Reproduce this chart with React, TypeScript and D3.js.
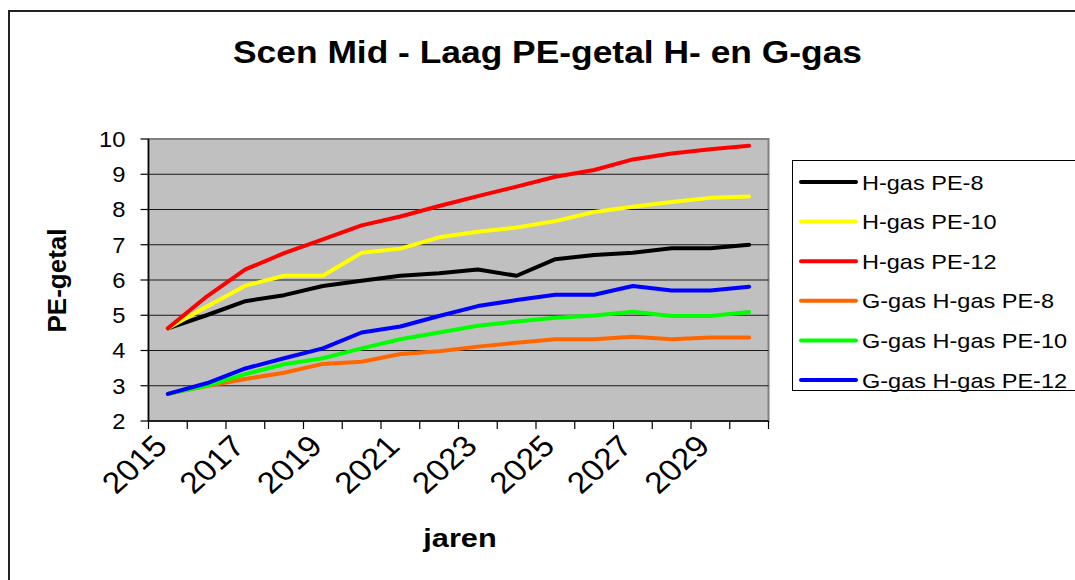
import { useEffect, useRef } from 'react';
import * as d3 from 'd3';

const years = [2015, 2016, 2017, 2018, 2019, 2020, 2021, 2022, 2023, 2024, 2025, 2026, 2027, 2028, 2029, 2030];
const yTicks = [2, 3, 4, 5, 6, 7, 8, 9, 10];

const hgasPE8 = [4.63, 5.0, 5.4, 5.57, 5.83, 5.98, 6.12, 6.19, 6.3, 6.12, 6.59, 6.71, 6.77, 6.9, 6.9, 7.0];
const hgasPE10 = [4.63, 5.24, 5.84, 6.12, 6.12, 6.77, 6.89, 7.21, 7.37, 7.49, 7.67, 7.93, 8.08, 8.21, 8.33, 8.37];
const hgasPE12 = [4.63, 5.53, 6.3, 6.76, 7.15, 7.55, 7.8, 8.1, 8.38, 8.65, 8.93, 9.12, 9.42, 9.59, 9.71, 9.81];
const ggasPE8 = [2.77, 2.99, 3.19, 3.37, 3.62, 3.68, 3.9, 3.98, 4.11, 4.22, 4.32, 4.32, 4.39, 4.32, 4.37, 4.37];
const ggasPE10 = [2.77, 3.0, 3.33, 3.61, 3.78, 4.06, 4.32, 4.51, 4.7, 4.82, 4.93, 4.99, 5.1, 4.98, 4.98, 5.09];
const ggasPE12 = [2.77, 3.07, 3.49, 3.78, 4.06, 4.51, 4.68, 4.98, 5.26, 5.43, 5.58, 5.58, 5.83, 5.7, 5.7, 5.81];

const seriesNames = ['H-gas PE-8', 'H-gas PE-10', 'H-gas PE-12', 'G-gas H-gas PE-8', 'G-gas H-gas PE-10', 'G-gas H-gas PE-12'];
const seriesColors = ['#000000', '#ffff00', '#ff0000', '#ff6600', '#00ff00', '#0000ff'];
const seriesValues = [hgasPE8, hgasPE10, hgasPE12, ggasPE8, ggasPE10, ggasPE12];

const W = 1075;
const H = 580;
const FONT = '"Liberation Sans", Arial, sans-serif';

export default function App() {
  const svgRef = useRef<SVGSVGElement>(null);

  useEffect(() => {
    if (!svgRef.current) return;
    const svg = d3.select(svgRef.current);
    svg.selectAll('*').remove();

    const plot = { left: 148.5, right: 768.5, top: 139, bottom: 421 };

    // outer chart frame (runs off the right/bottom edge)
    svg.append('rect')
      .attr('x', 9).attr('y', 11)
      .attr('width', W + 20).attr('height', H + 20)
      .attr('fill', '#fff')
      .attr('stroke', '#222')
      .attr('stroke-width', 2);

    const x = d3.scaleBand<number>().domain(years).range([plot.left, plot.right]).padding(0);
    const y = d3.scaleLinear().domain([2, 10]).range([plot.bottom, plot.top]);
    const cx = (yr: number) => (x(yr) as number) + x.bandwidth() / 2;

    // plot area
    svg.append('rect')
      .attr('x', plot.left).attr('y', plot.top)
      .attr('width', plot.right - plot.left).attr('height', plot.bottom - plot.top)
      .attr('fill', '#c0c0c0')
      .attr('stroke', '#808080')
      .attr('stroke-width', 2);

    // grid lines
    svg.selectAll('.grid')
      .data(yTicks.filter((t) => t !== 2 && t !== 10))
      .enter()
      .append('line')
      .attr('x1', plot.left).attr('x2', plot.right)
      .attr('y1', (d) => y(d)).attr('y2', (d) => y(d))
      .attr('stroke', '#1a1a1a')
      .attr('stroke-width', 1);

    // y axis
    svg.append('line')
      .attr('x1', plot.left).attr('x2', plot.left)
      .attr('y1', plot.top).attr('y2', plot.bottom)
      .attr('stroke', '#000').attr('stroke-width', 1.5);
    svg.selectAll('.ytick')
      .data(yTicks)
      .enter()
      .append('line')
      .attr('x1', plot.left - 8).attr('x2', plot.left)
      .attr('y1', (d) => y(d)).attr('y2', (d) => y(d))
      .attr('stroke', '#000').attr('stroke-width', 1.2);
    svg.selectAll('.ylab')
      .data(yTicks)
      .enter()
      .append('text')
      .attr('transform', (d) => `translate(${plot.left - 23},${y(d)}) scale(1.08,1)`)
      .attr('dy', '0.36em')
      .attr('text-anchor', 'end')
      .attr('font-family', FONT)
      .attr('font-size', 22)
      .text((d) => d);

    // x axis
    svg.append('line')
      .attr('x1', plot.left).attr('x2', plot.right)
      .attr('y1', plot.bottom).attr('y2', plot.bottom)
      .attr('stroke', '#000').attr('stroke-width', 1.5);
    const bounds = years.map((yr) => x(yr) as number).concat([plot.right]);
    svg.selectAll('.xtick')
      .data(bounds)
      .enter()
      .append('line')
      .attr('x1', (d) => d).attr('x2', (d) => d)
      .attr('y1', plot.bottom).attr('y2', plot.bottom + 8)
      .attr('stroke', '#000').attr('stroke-width', 1.2);
    svg.selectAll('.xlab')
      .data(years.filter((_, i) => i % 2 === 0))
      .enter()
      .append('text')
      .attr('transform', (d) => `translate(${cx(d) + 1},${plot.bottom + 27}) scale(1.12,1) rotate(-45)`)
      .attr('text-anchor', 'end')
      .attr('font-family', FONT)
      .attr('font-size', 30)
      .text((d) => d);

    // lines
    const line = d3.line<number>()
      .x((_, i) => cx(years[i]))
      .y((d) => y(d));
    seriesValues.forEach((vals, i) => {
      svg.append('path')
        .datum(vals)
        .attr('fill', 'none')
        .attr('stroke', seriesColors[i])
        .attr('stroke-width', 4)
        .attr('stroke-linejoin', 'round')
        .attr('stroke-linecap', 'round')
        .attr('d', line);
    });

    // title and axis titles
    svg.append('text')
      .attr('x', 233).attr('y', 63)
      .attr('font-family', FONT)
      .attr('font-weight', 'bold')
      .attr('font-size', 32)
      .attr('textLength', 629)
      .attr('lengthAdjust', 'spacingAndGlyphs')
      .text('Scen Mid - Laag PE-getal H- en G-gas');
    svg.append('text')
      .attr('transform', `translate(66,280.5) rotate(-90)`)
      .attr('text-anchor', 'middle')
      .attr('font-family', FONT)
      .attr('font-weight', 'bold')
      .attr('font-size', 26)
      .text('PE-getal');
    svg.append('text')
      .attr('transform', 'translate(460,547) scale(1.18,1)')
      .attr('text-anchor', 'middle')
      .attr('font-family', FONT)
      .attr('font-weight', 'bold')
      .attr('font-size', 26)
      .text('jaren');

    // legend
    const leg = svg.append('g');
    leg.append('rect')
      .attr('x', 792.5).attr('y', 160.5)
      .attr('width', 290).attr('height', 230)
      .attr('fill', '#fff')
      .attr('stroke', '#000')
      .attr('stroke-width', 1);
    seriesNames.forEach((name, i) => {
      const ly = 182 + i * 39.6;
      leg.append('line')
        .attr('x1', 801).attr('x2', 856)
        .attr('y1', ly).attr('y2', ly)
        .attr('stroke', seriesColors[i])
        .attr('stroke-width', 4)
        .attr('stroke-linecap', 'round');
      leg.append('text')
        .attr('transform', `translate(862,${ly}) scale(1.12,1)`)
        .attr('dy', '0.36em')
        .attr('font-family', FONT)
        .attr('font-size', 21)
        .text(name);
    });
  }, []);

  return (
    <div style={{ position: 'absolute', left: 0, top: 0, width: W, height: H, overflow: 'hidden' }}>
      <svg ref={svgRef} width={W} height={H} style={{ display: 'block' }} />
    </div>
  );
}
